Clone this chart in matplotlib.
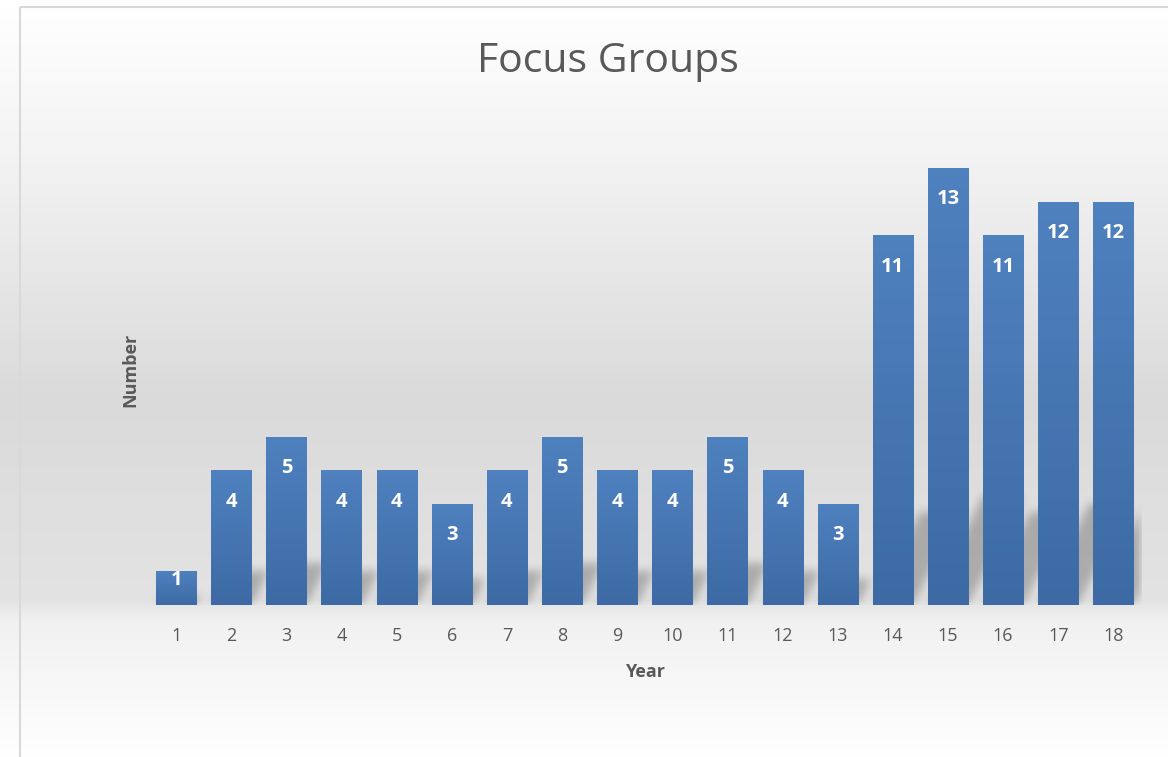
import numpy as np
import matplotlib
matplotlib.use("Agg")
import matplotlib.pyplot as plt
from matplotlib.patches import Rectangle

# Daten
years = list(range(1, 19))
counts = [1, 4, 5, 4, 4, 3, 4, 5, 4, 4, 5, 4, 3, 11, 13, 11, 12, 12]
title = "Focus Groups"
xlabel = "Year"
ylabel = "Number"

W, H = 1168, 757
fig = plt.figure(figsize=(W / 100, H / 100), dpi=100)
plt.rcParams['font.family'] = ['Open Sans', 'DejaVu Sans']
grey_txt = "#595959"

# Hintergrund mit Verlauf (weiss - grau - weiss)
bg = fig.add_axes([0, 0, 1, 1], zorder=0)
bg.set_axis_off()
ys = np.arange(H)
stops_y = [0, 7, 150, 400, 600, 620, 757]
stops_v = [1.0, 1.0, 0.955, 0.855, 0.89, 0.945, 1.0]
vals = np.interp(ys, stops_y, stops_v)
grad = np.repeat(vals[:, None], 4, axis=1)
bg.imshow(np.dstack([grad] * 3), extent=(0, W, H, 0), aspect="auto")
bg.set_xlim(0, W)
bg.set_ylim(H, 0)
bg.add_patch(Rectangle((20, 7), W, H, fill=False, edgecolor="#d9d9d9", lw=1.5))

# Plotbereich
left, right, top, bottom = 148.5, 1141, 135, 605
ax = fig.add_axes([left / W, 1 - bottom / H, (right - left) / W, (bottom - top) / H], zorder=1)
ax.patch.set_alpha(0)
ax.set_xlim(0.5, 18.5)
ax.set_ylim(0, 14)
for s in ax.spines.values():
    s.set_visible(False)

bar_w = 0.727
px_x = (right - left) / 18
px_y = (bottom - top) / 14

# Schatten (perspektivisch, weichgezeichnet)
gx = np.linspace(0.5, 18.5, int(right - left))
gy = np.linspace(0, 14, int(bottom - top))
X, Y = np.meshgrid(gx, gy)
mask = np.zeros_like(X)
shear = 0.5 * px_y / px_x
for c, v in zip(years, counts):
    hs = 0.25 * v
    inside = (Y <= hs) & (np.abs(X - (c + shear * Y)) <= bar_w / 2)
    mask[inside] = 1.0

def box_blur(a, r, axis):
    k = np.ones(2 * r + 1) / (2 * r + 1)
    return np.apply_along_axis(lambda m: np.convolve(m, k, mode="same"), axis, a)

for _ in range(3):
    mask = box_blur(mask, 4, 0)
    mask = box_blur(mask, 4, 1)
rgba = np.zeros(mask.shape + (4,))
rgba[..., 3] = mask * 0.24
ax.imshow(rgba, extent=(0.5, 18.5, 0, 14), origin="lower", aspect="auto", zorder=1)

# Balken mit Verlauf
bars = ax.bar(years, counts, width=bar_w, color="#4a7ab5", zorder=2)
top_c = np.array([79, 129, 191]) / 255
bot_c = np.array([61, 106, 164]) / 255
t = np.linspace(0, 1, 64)[:, None]
bar_grad = (top_c * (1 - t) + bot_c * t)[:, None, :]
for b in bars:
    x0, h = b.get_x(), b.get_height()
    ax.imshow(bar_grad, extent=(x0, x0 + b.get_width(), 0, h), aspect="auto", zorder=3)
ax.set_xlim(0.5, 18.5)
ax.set_ylim(0, 14)

# Werte
for c, v in zip(years, counts):
    ax.text(c, max(v - 0.92, 0.74), str(v), ha="center", va="center",
            color="white", fontsize=14.5, fontweight="bold", zorder=4)

ax.set_xticks(years)
ax.set_xticklabels([str(y) for y in years], fontsize=13, color=grey_txt)
ax.tick_params(axis="x", length=0, pad=16)
ax.set_yticks([])

fig.text(608 / W, 1 - 62 / H, title, ha="center", va="center", fontsize=29.5, color=grey_txt)
fig.text(645 / W, 1 - 672 / H, xlabel, ha="center", va="center", fontsize=13,
         fontweight="bold", color=grey_txt)
fig.text(130 / W, 1 - 370 / H, ylabel, ha="center", va="center", fontsize=13,
         fontweight="bold", color=grey_txt, rotation=90)

fig.savefig("out.png", dpi=100)
